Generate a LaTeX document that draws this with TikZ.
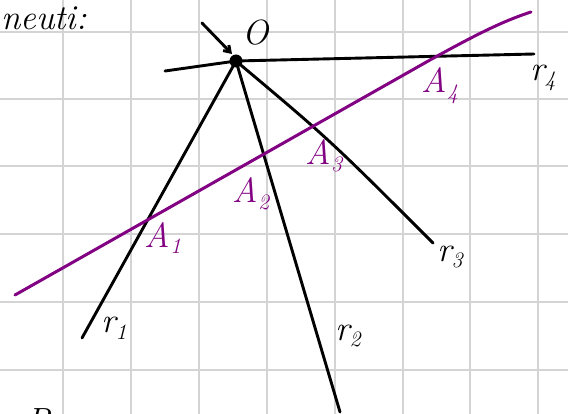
\documentclass[tikz,border=0pt]{standalone}
\usepackage{fontspec}
\usetikzlibrary{arrows.meta}
\definecolor{gridgray}{RGB}{212,212,212}
\definecolor{pur}{RGB}{130,0,130}
\newcommand\lowsub[1]{\raisebox{-0.45ex}{\fontsize{22}{24}\selectfont #1}}
\tikzset{
  gridline/.style={gridgray, line width=2pt},
  ray/.style={black, line width=2.9pt, line cap=round},
  pline/.style={pur, line width=3pt, line cap=round},
  plabel/.style={pur, font=\fontsize{35}{38}\selectfont\itshape, inner sep=0pt},
  rlabel/.style={black, font=\fontsize{35}{38}\selectfont\itshape, inner sep=0pt},
}
\begin{document}
\begin{tikzpicture}[x=1pt,y=-1pt]
\useasboundingbox (0,0) rectangle (568,414);
\clip (0,0) rectangle (568,414);
% grid
\foreach \x in {63,131,199,267,335,403,470,538} \draw[gridline] (\x,0) -- (\x,414);
\foreach \y in {32,99,166,234,302,370} \draw[gridline] (0,\y) -- (568,\y);
% point O
\coordinate (O) at (236,61);
\coordinate (r1e) at (82,338);
\coordinate (r2e) at (340,412);
\coordinate (r3e) at (433,243);
\coordinate (r4s) at (165,71);
\coordinate (r4e) at (534,54);
\draw[ray] (r4s) -- (O) -- (r4e);
\draw[ray] (O) -- (r1e);
\draw[ray] (O) -- (r2e);
\draw[ray] (O) .. controls (330,140) .. (r3e);
\fill[black] (O) circle (6.5);
% arrow to O
\coordinate (as) at (202,23);
\draw[ray, -{Straight Barb[length=6pt,width=8pt]}] (as) -- (232,54);
\node[rlabel] (Ol) at (256,33) {O};
% purple line
\coordinate (ps) at (15,295);
\coordinate (pe) at (531,12);
\draw[pline] (ps) -- (430,60) .. controls (470,38) and (500,22) .. (pe);
% labels
\node[plabel] (A1) at (163,238) {A\lowsub{1}};
\node[plabel] (A2) at (251,194) {A\lowsub{2}};
\node[plabel] (A3) at (324,156) {A\lowsub{3}};
\node[plabel] (A4) at (440,86) {A\lowsub{4}};
\node[rlabel] (r1) at (114,328) {r\lowsub{1}};
\node[rlabel] (r2) at (348,336) {r\lowsub{2}};
\node[rlabel] (r3) at (450,257) {r\lowsub{3}};
\node[rlabel, anchor=west] (r4) at (530,78) {r\lowsub{4}};
\node[rlabel, anchor=base west] (t) at (1,30) {neuti:};
\node[rlabel, anchor=base] (P) at (38,432) {P};
\end{tikzpicture}
\end{document}
